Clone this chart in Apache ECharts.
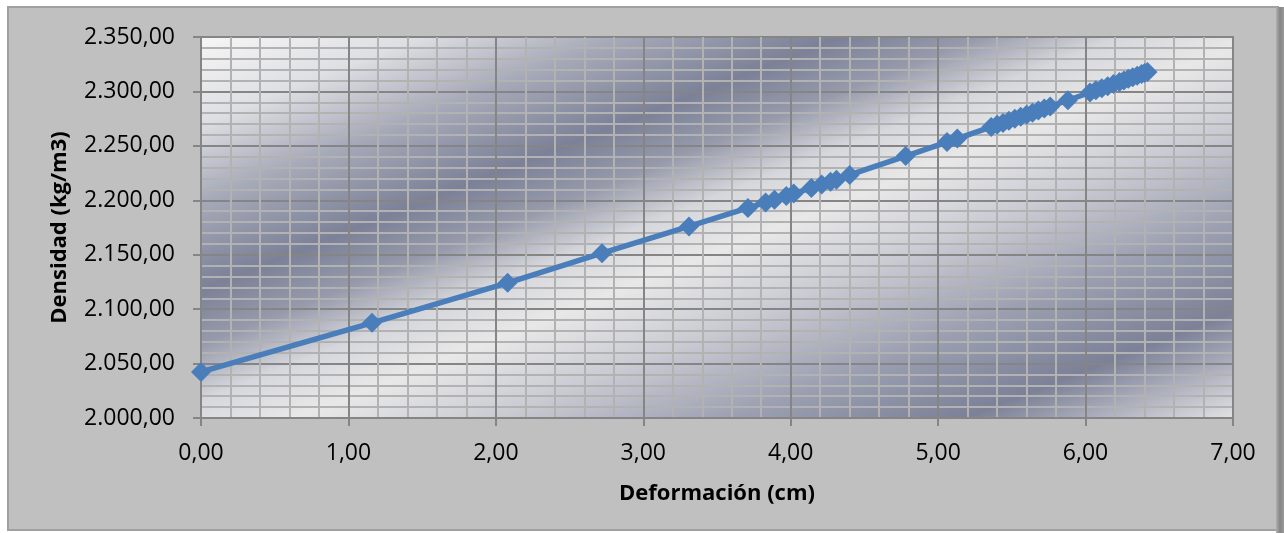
<!DOCTYPE html>
<html>
<head>
<meta charset="utf-8">
<script src="https://cdn.jsdelivr.net/npm/echarts@6/dist/echarts.min.js"></script>
<style>
html,body{margin:0;padding:0;background:#fff;}
#chart{width:1284px;height:533px;}
</style>
</head>
<body>
<div id="chart"></div>
<script>
// Deformación (cm)
const deformacion = [0.00, 1.16, 2.08, 2.72, 3.31, 3.71, 3.83, 3.89, 3.97, 4.02, 4.14, 4.21, 4.27, 4.31, 4.40,
  4.78, 5.06, 5.13, 5.36, 5.40, 5.44, 5.48, 5.52, 5.56, 5.60, 5.64, 5.68, 5.72, 5.76, 5.88,
  6.03, 6.07, 6.11, 6.15, 6.19, 6.23, 6.26, 6.29, 6.32, 6.35, 6.38, 6.40, 6.42];
// Densidad (kg/m3)
const densidad = [2042.3, 2087.4, 2124.2, 2151.4, 2176.0, 2193.0, 2198.0, 2200.6, 2204.0, 2206.2, 2211.3, 2214.5, 2217.1, 2218.9, 2223.3,
  2240.6, 2253.5, 2256.7, 2267.4, 2269.3, 2271.1, 2273.0, 2274.8, 2276.7, 2278.6, 2280.5, 2282.4, 2284.3, 2286.2, 2291.9,
  2299.0, 2301.0, 2302.9, 2304.8, 2306.8, 2308.7, 2310.1, 2311.6, 2313.0, 2314.5, 2315.9, 2316.9, 2317.9];

const xTitle = 'Deformación (cm)';
const yTitle = 'Densidad (kg/m3)';

function fmt(v) {
  const s = Number(v).toFixed(2);
  let parts = s.split('.');
  let i = parts[0].replace(/\B(?=(\d{3})+(?!\d))/g, '.');
  return i + ',' + parts[1];
}

const pts = deformacion.map((x, k) => [x, densidad[k]]);

const chart = echarts.init(document.getElementById('chart'), null, {renderer: 'canvas'});

const plotBg = new echarts.graphic.LinearGradient(201, 37, 471, 720, [
  {offset: 0.00, color: '#f6f6f6'},
  {offset: 0.11, color: '#dedfe3'},
  {offset: 0.21, color: '#a6a9b8'},
  {offset: 0.32, color: '#7c8198'},
  {offset: 0.39, color: '#969aab'},
  {offset: 0.46, color: '#d6d7dc'},
  {offset: 0.53, color: '#e8e8e8'},
  {offset: 0.62, color: '#cdced5'},
  {offset: 0.75, color: '#9b9fb1'},
  {offset: 0.865, color: '#7c8198'},
  {offset: 1.00, color: '#e2e2e5'}
], true);

const option = {
  animation: false,
  backgroundColor: '#ffffff',
  graphic: [
    {type: 'rect', z: -100, shape: {x: 8, y: 7, width: 1270, height: 523},
     style: {fill: '#c0c0c0', stroke: '#a0a0a0', lineWidth: 2}},
    {type: 'rect', z: -99, shape: {x: 1276, y: 7, width: 8, height: 526},
     style: {fill: new echarts.graphic.LinearGradient(0, 0, 1, 0, [
       {offset: 0, color: '#b0b0b0'}, {offset: 0.5, color: '#858585'}, {offset: 1, color: '#9a9a9a'}])}}
  ],
  grid: {
    left: 201, right: 51, top: 37, bottom: 115,
    show: true, backgroundColor: plotBg, borderColor: '#858585', borderWidth: 2
  },
  xAxis: {
    type: 'value', min: 0, max: 7, interval: 1,
    name: xTitle, nameLocation: 'middle', nameGap: 65,
    nameTextStyle: {fontFamily: 'Open Sans', fontWeight: 'bold', fontSize: 22, color: '#000'},
    axisLine: {show: true, lineStyle: {color: '#858585', width: 2}},
    axisTick: {show: true, length: 8, lineStyle: {color: '#858585', width: 2}},
    axisLabel: {margin: 24, formatter: fmt, fontFamily: 'Open Sans', fontSize: 23, color: '#000'},
    splitLine: {show: true, lineStyle: {color: '#858585', width: 2}},
    minorTick: {show: false, splitNumber: 5},
    minorSplitLine: {show: true, lineStyle: {color: '#b2b2b2', width: 2}}
  },
  yAxis: {
    type: 'value', min: 2000, max: 2350, interval: 50,
    name: yTitle, nameLocation: 'middle', nameGap: 130,
    nameTextStyle: {fontFamily: 'Open Sans', fontWeight: 'bold', fontSize: 22, color: '#000'},
    axisLine: {show: true, lineStyle: {color: '#858585', width: 2}},
    axisTick: {show: true, length: 8, lineStyle: {color: '#858585', width: 2}},
    axisLabel: {margin: 26, formatter: fmt, fontFamily: 'Open Sans', fontSize: 23, color: '#000'},
    splitLine: {show: true, lineStyle: {color: '#858585', width: 2}},
    minorTick: {show: false, splitNumber: 5},
    minorSplitLine: {show: true, lineStyle: {color: '#b2b2b2', width: 2}}
  },
  series: [{
    type: 'line',
    data: pts,
    symbol: 'diamond',
    symbolSize: 20,
    showAllSymbol: true,
    lineStyle: {color: '#4a7ebb', width: 5.5},
    itemStyle: {color: '#4a7ebb'},
    z: 5
  }]
};
chart.setOption(option);
</script>
</body>
</html>
